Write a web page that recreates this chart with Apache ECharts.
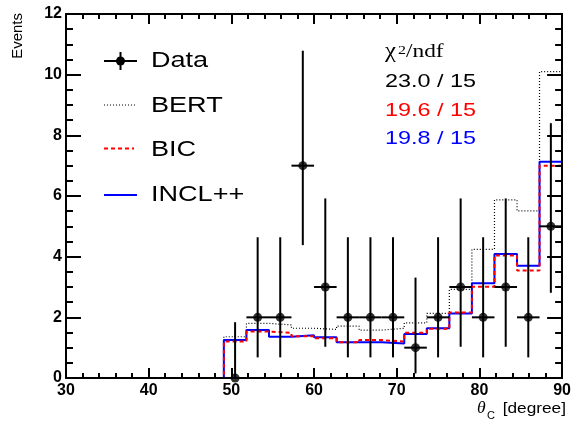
<!DOCTYPE html>
<html>
<head>
<meta charset="utf-8">
<title>theta_C</title>
<script src="https://cdn.jsdelivr.net/npm/echarts@6/dist/echarts.min.js"></script>
<style>
  html, body { margin: 0; padding: 0; background: #fff; }
  #chart { width: 574px; height: 422px; }
</style>
</head>
<body>
<div id="chart"></div>
<script>
// bin edges of the histograms (degree)
const binEdges = [49.09, 51.82, 54.55, 57.27, 60.00, 62.73, 65.45, 68.18, 70.91, 73.64, 76.36, 79.09, 81.82, 84.55, 87.27, 90.00]
// data points
const dataX = [50.45, 53.18, 55.91, 58.64, 61.36, 64.09, 66.82, 69.55, 72.27, 75.00, 77.73, 80.45, 83.18, 85.91, 88.64]
const dataY = [0, 2, 2, 7, 3, 2, 2, 2, 1, 2, 3, 2, 3, 2, 5]
const dataLow = [0, 0.68, 0.68, 4.38, 1.03, 0.68, 0.68, 0.68, 0.15, 0.68, 1.03, 0.68, 1.03, 0.68, 2.81]
const dataHigh = [1.84, 4.64, 4.64, 10.79, 5.92, 4.64, 4.64, 4.64, 3.31, 4.64, 5.92, 4.64, 5.92, 4.64, 8.40]
// models
const bert = [1.36, 1.80, 1.75, 1.64, 1.60, 1.71, 1.58, 1.64, 1.82, 2.13, 2.92, 4.24, 5.87, 5.51, 10.10]
const bic = [1.20, 1.53, 1.49, 1.38, 1.31, 1.18, 1.25, 1.20, 1.49, 1.62, 2.16, 3.01, 4.04, 3.54, 7.00]
const incl = [1.25, 1.58, 1.36, 1.41, 1.34, 1.18, 1.18, 1.14, 1.45, 1.64, 2.13, 3.12, 4.09, 3.70, 7.13]
const chi2Labels = ['23.0 / 15', '19.6 / 15', '19.8 / 15']

const sans = "'Liberation Sans', Arial, Helvetica, sans-serif"
const serif = "'Liberation Serif', 'Times New Roman', serif"
const stretch = 1.23 // text in the picture is a bit wider than tall

function histData(vals) {
  const d = [[30, 0]]
  vals.forEach((v, i) => d.push([binEdges[i], v]))
  d.push([90, vals[vals.length - 1]])
  return d
}

const errData = dataX.map((x, i) => [x, dataY[i], dataLow[i], dataHigh[i], binEdges[i], binEdges[i + 1]])

function axisX(pos, labels) {
  return {
    type: 'value', position: pos, min: 30, max: 90, interval: 10, z: 10,
    axisLine: { show: true, onZero: false, lineStyle: { color: '#000', width: 2 } },
    axisTick: { show: true, inside: true, length: 10, lineStyle: { color: '#000', width: 2 } },
    minorTick: { show: true, splitNumber: 5, length: 5, lineStyle: { color: '#000', width: 2 } },
    axisLabel: { show: labels, color: '#000', fontFamily: sans, fontWeight: 'bold', fontSize: 16, margin: 5 },
    splitLine: { show: false }
  }
}
function axisY(pos, labels) {
  return {
    type: 'value', position: pos, min: 0, max: 12, interval: 2, z: 10,
    axisLine: { show: true, onZero: false, lineStyle: { color: '#000', width: 2 } },
    axisTick: { show: true, inside: true, length: 15, lineStyle: { color: '#000', width: 2 } },
    minorTick: { show: true, splitNumber: 4, length: 7, lineStyle: { color: '#000', width: 2 } },
    axisLabel: { show: labels, color: '#000', fontFamily: sans, fontWeight: 'bold', fontSize: 16, margin: 4 },
    splitLine: { show: false }
  }
}

function txt(x, y, text, size, color) {
  return {
    type: 'text', x: x, y: y, scaleX: stretch, z: 100,
    style: { text: text, fill: color, font: size + 'px ' + sans, textAlign: 'left', textVerticalAlign: 'middle' }
  }
}
function seg(x1, y1, x2, y2, color, width, dash) {
  return {
    type: 'line', z: 100,
    shape: { x1: x1, y1: y1, x2: x2, y2: y2 },
    style: { stroke: color, lineWidth: width, lineDash: dash || null }
  }
}

const graphic = [
  // legend
  seg(104, 61, 137, 61, '#000', 2),
  seg(120.5, 52, 120.5, 70, '#000', 2),
  { type: 'circle', z: 100, shape: { cx: 120.5, cy: 61, r: 4.5 }, style: { fill: '#000' } },
  txt(151, 61, 'Data', 22, '#000'),
  seg(104, 105, 135, 105, '#000', 1.2, [1, 2]),
  txt(151, 106, 'BERT', 22, '#000'),
  seg(104, 148.5, 134, 148.5, '#ff0000', 2, [4, 3]),
  txt(151, 150, 'BIC', 22, '#000'),
  seg(104, 195, 137, 195, '#0000ff', 2),
  txt(151, 195, 'INCL++', 22, '#000'),
  // chi2 / ndf
  { type: 'text', x: 385, y: 62, scaleX: stretch, z: 100, style: { text: 'χ', fill: '#000', font: '20px ' + serif, textVerticalAlign: 'bottom' } },
  { type: 'text', x: 398, y: 57, scaleX: stretch, z: 100, style: { text: '2', fill: '#000', font: '13px ' + serif, textVerticalAlign: 'bottom' } },
  { type: 'text', x: 406, y: 62, scaleX: stretch, z: 100, style: { text: '/ndf', fill: '#000', font: '19px ' + serif, textVerticalAlign: 'bottom' } },
  txt(385, 82, chi2Labels[0], 19, '#000'),
  txt(385, 111, chi2Labels[1], 19, '#ff0000'),
  txt(385, 139, chi2Labels[2], 19, '#0000ff'),
  // axis titles
  { type: 'text', x: 18, y: 13, rotation: Math.PI / 2, z: 100, style: { text: 'Events', fill: '#000', font: '15px ' + sans, textAlign: 'right', textVerticalAlign: 'middle' } },
  { type: 'text', x: 477, y: 409, scaleX: 1.1, z: 100, style: { text: 'θ', fill: '#000', font: 'italic 16px ' + serif, textVerticalAlign: 'middle' } },
  { type: 'text', x: 487, y: 416, scaleX: 1.1, z: 100, style: { text: 'C', fill: '#000', font: '10px ' + sans, textVerticalAlign: 'middle' } },
  { type: 'text', x: 566, y: 409, scaleX: 1.15, z: 100, style: { text: '[degree]', fill: '#000', font: '15px ' + sans, textAlign: 'right', textVerticalAlign: 'middle' } }
]

const chart = echarts.init(document.getElementById('chart'))
chart.setOption({
  animation: false,
  grid: { left: 66, right: 9, top: 14, bottom: 44 },
  xAxis: [axisX('bottom', true), axisX('top', false)],
  yAxis: [axisY('left', true), axisY('right', false)],
  graphic: graphic,
  series: [
    {
      name: 'BERT', type: 'line', step: 'end', showSymbol: false, data: histData(bert),
      lineStyle: { color: '#000', width: 1.2, type: [1, 2] }, z: 2
    },
    {
      name: 'INCL++', type: 'line', step: 'end', showSymbol: false, data: histData(incl),
      lineStyle: { color: '#0000ff', width: 2 }, z: 3
    },
    {
      name: 'BIC', type: 'line', step: 'end', showSymbol: false, data: histData(bic),
      lineStyle: { color: '#ff0000', width: 2, type: [4, 3] }, z: 4
    },
    {
      name: 'err', type: 'custom', data: errData, z: 5,
      renderItem(params, api) {
        const c = api.coord([api.value(0), api.value(1)])
        const lo = api.coord([api.value(0), api.value(2)])
        const hi = api.coord([api.value(0), api.value(3)])
        const l = api.coord([api.value(4), api.value(1)])
        const r = api.coord([api.value(5), api.value(1)])
        const st = { stroke: '#000', lineWidth: 2 }
        return {
          type: 'group',
          children: [
            { type: 'line', shape: { x1: lo[0], y1: lo[1], x2: hi[0], y2: hi[1] }, style: st },
            { type: 'line', shape: { x1: l[0], y1: c[1], x2: r[0], y2: c[1] }, style: st }
          ]
        }
      }
    },
    {
      name: 'Data', type: 'scatter', symbol: 'circle', symbolSize: 9, clip: false, z: 6,
      itemStyle: { color: '#000' },
      data: dataX.map((x, i) => [x, dataY[i]])
    }
  ]
})
</script>
</body>
</html>
